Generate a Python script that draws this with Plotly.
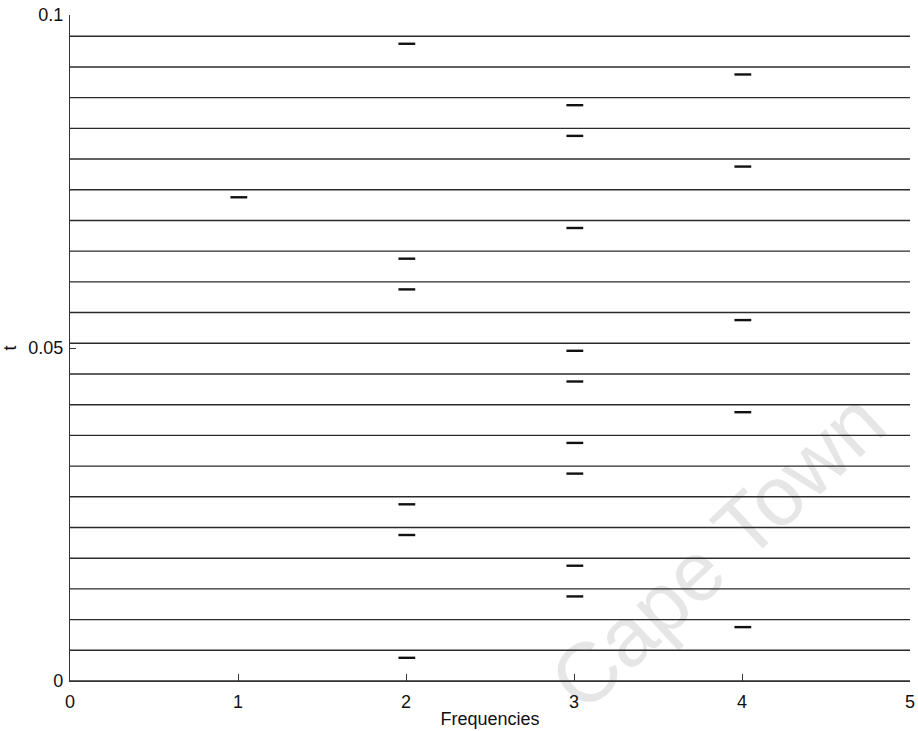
import plotly.graph_objects as go

# Time step between successive spectrum rows and the number of rows above t = 0
dt = 0.00461
n_rows = 21

# Dominant frequency of each row, listed from the first row (lowest t) upward
peak_freq = [2, 4, 3, 3, 2, 2, 3, 3, 4, 3, 3, 4, 2, 2, 3, 1, 4, 3, 3, 4, 2]

x_ticks = [0, 1, 2, 3, 4, 5]
y_ticks = [0, 0.05, 0.1]
y_tick_text = ["0", "0.05", "0.1"]

row_t = [k * dt for k in range(n_rows + 1)]

# horizontal baselines, one per time row
line_x, line_y = [], []
for t in row_t:
    line_x += [0, 5, None]
    line_y += [t, t, None]

# short peak markers just below each row
mark_drop = 0.00113
mark_x, mark_y = [], []
for k, f in enumerate(peak_freq, start=1):
    tm = row_t[k] - mark_drop
    mark_x += [f - 0.045, f + 0.055, None]
    mark_y += [tm, tm, None]

fig = go.Figure()
fig.add_trace(go.Scatter(x=line_x, y=line_y, mode="lines",
                         line=dict(color="#2b2b2b", width=1.4),
                         hoverinfo="skip", showlegend=False))
fig.add_trace(go.Scatter(x=mark_x, y=mark_y, mode="lines",
                         line=dict(color="#111111", width=2.4),
                         hoverinfo="skip", showlegend=False))

axis_font = dict(family="Liberation Sans, Arial, sans-serif", size=18, color="#111")

fig.update_layout(
    width=918, height=731,
    margin=dict(l=70, r=8, t=15, b=50),
    paper_bgcolor="white", plot_bgcolor="white",
    font=axis_font,
    xaxis=dict(range=[0, 5], tickvals=x_ticks, ticks="inside", ticklen=7,
               tickcolor="#333", showline=True, linecolor="#333", linewidth=1.2,
               showgrid=False, zeroline=False, ticklabelstandoff=4,
               automargin=False,
               title=dict(text="Frequencies", standoff=1, font=axis_font)),
    yaxis=dict(range=[0, 0.1], tickvals=y_ticks, ticktext=y_tick_text,
               ticks="inside", ticklen=6, tickcolor="#333",
               showline=True, linecolor="#333", linewidth=1.2,
               showgrid=False, zeroline=False, ticklabelstandoff=2,
               automargin=False,
               title=dict(text="t", standoff=10, font=axis_font)),
    shapes=[dict(type="rect", xref="paper", yref="paper",
                 x0=0.664, x1=0.864, y0=0.154, y1=0.254, layer="below",
                 line=dict(width=0), fillcolor="rgba(0,0,0,0)",
                 label=dict(text="Cape Town", textangle=-43,
                            textposition="middle center",
                            font=dict(family="Liberation Sans, Arial, sans-serif",
                                      size=84, color="#e6e6e6")))],
)

fig.write_html("out.html")
